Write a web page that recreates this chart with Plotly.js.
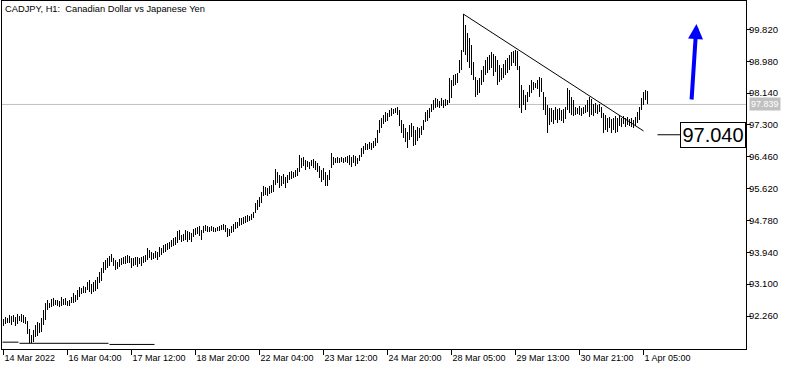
<!DOCTYPE html>
<html><head><meta charset="utf-8">
<script src="https://cdn.plot.ly/plotly-3.0.1.min.js"></script>
<style>html,body{margin:0;padding:0;background:#fff;}#chart{width:794px;height:370px;}</style>
</head><body><div id="chart"></div>
<script>
const barHigh = [
92.18,92.23,92.21,92.29,92.26,92.29,92.23,92.31,92.26,92.31,
92.29,92.23,92.13,91.92,91.76,91.89,92.02,92.10,92.08,92.21,
92.42,92.60,92.68,92.60,92.71,92.73,92.68,92.68,92.66,92.76,
92.71,92.73,92.66,92.68,92.76,92.87,92.81,92.95,93.03,93.00,
93.05,93.03,93.16,93.21,93.10,93.16,93.21,93.29,93.42,93.53,
93.68,93.74,93.79,93.84,93.90,93.79,93.74,93.68,93.76,93.79,
93.82,93.84,93.87,93.84,93.79,93.79,93.82,93.82,93.79,93.82,
93.84,93.87,94.05,94.00,93.95,93.92,93.97,93.95,94.08,94.05,
94.13,94.16,94.19,94.21,94.26,94.32,94.34,94.50,94.53,94.40,
94.42,94.53,94.50,94.48,94.45,94.55,94.58,94.61,94.63,94.53,
94.63,94.66,94.63,94.61,94.63,94.61,94.58,94.61,94.63,94.66,
94.69,94.66,94.58,94.55,94.63,94.69,94.74,94.74,94.84,94.84,
94.87,94.90,94.92,94.90,94.95,95.00,95.24,95.32,95.40,95.53,
95.69,95.66,95.64,95.69,95.71,95.85,96.14,96.06,95.98,95.95,
96.00,95.93,95.98,96.06,96.08,96.06,96.11,96.16,96.51,96.43,
96.45,96.37,96.35,96.32,96.37,96.40,96.35,96.29,96.22,96.11,
96.16,96.06,95.98,96.11,96.56,96.45,96.43,96.45,96.43,96.45,
96.43,96.45,96.48,96.51,96.45,96.51,96.48,96.43,96.51,96.69,
96.74,96.82,96.80,96.85,96.82,96.88,96.95,97.17,97.43,97.48,
97.56,97.64,97.61,97.69,97.75,97.72,97.75,97.77,97.69,97.43,
97.32,97.22,97.11,97.30,97.35,97.27,97.17,97.24,97.22,97.27,
97.43,97.64,97.69,97.75,97.85,97.96,98.01,97.98,97.93,98.01,
97.96,97.98,97.96,98.54,98.48,98.62,98.64,98.67,99.01,99.27,
100.22,99.93,99.72,99.59,99.41,98.96,98.56,98.48,98.54,98.75,
98.85,99.01,99.09,99.14,99.22,99.17,99.12,99.01,98.88,98.80,
98.91,99.01,99.06,99.14,99.22,99.25,99.27,99.25,98.85,98.35,
98.22,98.09,98.17,98.35,98.48,98.43,98.40,98.48,98.56,98.54,
98.17,98.04,97.82,97.75,97.75,97.69,97.77,97.72,97.75,97.69,
97.72,97.77,98.27,98.22,98.04,97.96,97.77,97.75,97.80,97.75,
97.77,97.82,97.96,98.04,97.98,97.85,97.88,97.82,97.85,97.77,
97.61,97.56,97.48,97.51,97.46,97.48,97.53,97.48,97.56,97.48,
97.53,97.48,97.51,97.46,97.48,97.43,97.51,97.64,97.77,98.01,
98.17,98.22,98.19
];
const barLow = [
92.00,92.05,92.08,92.08,92.02,92.10,92.00,92.05,92.13,92.10,
92.08,92.05,91.79,91.55,91.55,91.57,91.71,91.73,91.81,91.84,
92.02,92.15,92.42,92.47,92.50,92.52,92.55,92.52,92.50,92.52,
92.55,92.55,92.52,92.52,92.60,92.60,92.63,92.68,92.76,92.84,
92.87,92.87,92.95,92.89,92.84,92.89,92.92,92.97,93.13,93.18,
93.39,93.47,93.53,93.58,93.68,93.58,93.47,93.50,93.55,93.61,
93.63,93.63,93.66,93.66,93.53,93.58,93.61,93.55,93.63,93.58,
93.66,93.68,93.74,93.79,93.74,93.76,93.79,93.74,93.82,93.87,
93.92,93.95,94.00,94.03,94.08,94.11,94.13,94.19,94.26,94.21,
94.24,94.26,94.21,94.26,94.21,94.34,94.40,94.42,94.37,94.26,
94.45,94.50,94.48,94.48,94.50,94.48,94.48,94.50,94.50,94.53,
94.53,94.48,94.34,94.37,94.45,94.48,94.55,94.58,94.63,94.66,
94.69,94.71,94.74,94.77,94.79,94.84,94.98,95.06,95.13,95.24,
95.42,95.45,95.42,95.48,95.50,95.53,95.71,95.77,95.64,95.69,
95.74,95.64,95.77,95.85,95.87,95.90,95.93,95.95,96.06,96.16,
96.22,96.11,96.19,96.14,96.22,96.16,96.11,96.06,95.90,95.79,
95.85,95.69,95.69,95.85,96.16,96.24,96.29,96.29,96.29,96.32,
96.29,96.32,96.29,96.24,96.19,96.29,96.22,96.27,96.35,96.45,
96.53,96.64,96.64,96.66,96.64,96.69,96.74,96.82,97.09,97.22,
97.32,97.38,97.40,97.51,97.53,97.59,97.61,97.56,97.27,97.09,
96.95,96.85,96.69,96.90,96.98,96.74,96.77,96.88,96.95,97.03,
97.17,97.38,97.40,97.48,97.64,97.69,97.75,97.77,97.75,97.80,
97.75,97.80,97.82,97.88,98.01,98.33,98.35,98.40,98.67,98.75,
99.22,99.14,98.96,98.80,98.62,98.48,98.04,98.09,98.14,98.35,
98.43,98.62,98.67,98.75,98.80,98.59,98.69,98.35,98.43,98.48,
98.54,98.62,98.67,98.75,98.85,98.93,98.85,98.75,97.75,97.61,
97.82,97.69,97.90,98.04,98.14,98.22,98.27,98.25,98.04,98.17,
97.69,97.56,97.09,97.30,97.38,97.32,97.43,97.35,97.43,97.40,
97.35,97.46,97.69,97.61,97.56,97.53,97.56,97.59,97.56,97.53,
97.59,97.61,97.64,97.51,97.56,97.53,97.61,97.59,97.64,97.48,
97.09,97.17,97.11,97.22,97.09,97.17,97.09,97.11,97.27,97.24,
97.32,97.24,97.30,97.27,97.24,97.22,97.27,97.35,97.43,97.69,
97.82,97.96,97.85
];
const timeTickIndex = [0,32,64,96,128,160,192,224,256,288,320];
const timeTickLabels = ['14 Mar 2022','16 Mar 04:00','17 Mar 12:00','18 Mar 20:00','22 Mar 04:00','23 Mar 12:00','24 Mar 20:00','28 Mar 05:00','29 Mar 13:00','30 Mar 21:00','1 Apr 05:00'];
const priceTicks = [92.26,93.10,93.94,94.78,95.62,96.46,97.30,98.14,98.98,99.82];
const lastPrice = 97.839;
const targetLevel = 97.040;
const trendIndex = [230,320];
const trendPrice = [100.22,97.14];
const targetLineIndex = [327,338.5];
const arrowIndex = [344,346.5];
const arrowPrice = [97.93,99.96];
const levelStartIndex = [-0.5,8,53];
const levelEndIndex = [7.5,52.5,75.5];
const levelPrice = [91.57,91.54,91.51];

const idx = barHigh.map((_, i) => i);
const FONT = 'Liberation Sans, Arial, sans-serif';

const trace = {
  type: 'bar',
  x: idx,
  base: barLow,
  y: barHigh.map((h, i) => h - barLow[i]),
  width: 0.5,
  marker: {color: '#000000', line: {width: 0}},
  hoverinfo: 'skip'
};

const shapes = [
  {type:'line', xref:'paper', x0:0, x1:1, yref:'y', y0:lastPrice, y1:lastPrice,
   line:{color:'#c0c0c0', width:1}, layer:'below'},
  {type:'line', xref:'x', yref:'y', x0:trendIndex[0], x1:trendIndex[1], y0:trendPrice[0], y1:trendPrice[1],
   line:{color:'#000000', width:1}},
  {type:'line', xref:'x', yref:'y', x0:targetLineIndex[0], x1:targetLineIndex[1], y0:targetLevel, y1:targetLevel,
   line:{color:'#000000', width:1}}
];
levelPrice.forEach((p, k) => shapes.push({type:'line', xref:'x', yref:'y',
  x0:levelStartIndex[k], x1:levelEndIndex[k], y0:p, y1:p, line:{color:'#000000', width:1}}));

const annotations = [
  {xref:'paper', x:1, xanchor:'right', yref:'y', y:targetLevel, yanchor:'middle',
   text:targetLevel.toFixed(3), showarrow:false, font:{family:FONT, size:20, color:'#000'},
   bgcolor:'#ffffff', bordercolor:'#000000', borderwidth:1, borderpad:1, width:62},
  {xref:'paper', x:1, xanchor:'left', xshift:3, yref:'y', y:lastPrice, yanchor:'middle',
   text:lastPrice.toFixed(3), showarrow:false, font:{family:FONT, size:9, color:'#ffffff'},
   bgcolor:'#c0c0c0', borderpad:1},
  {xref:'x', yref:'y', x:arrowIndex[1], y:arrowPrice[1], axref:'x', ayref:'y', ax:arrowIndex[0], ay:arrowPrice[0],
   text:'', showarrow:true, arrowhead:2, arrowsize:0.75, arrowwidth:4, arrowcolor:'#0000ff', standoff:0}
];

const layout = {
  width: 794, height: 370,
  margin: {l:2, r:48, t:1, b:21, pad:0},
  paper_bgcolor:'#ffffff', plot_bgcolor:'#ffffff',
  showlegend:false,
  title: {text:'CADJPY, H1: \u00a0Canadian Dollar vs Japanese Yen', font:{family:FONT, size:9.3, color:'#000'},
          xref:'paper', x:0, xanchor:'left', yref:'paper', y:1, yanchor:'top', pad:{l:3, t:4}},
  xaxis: {range:[-0.75, 371.25], tickmode:'array', tickvals:timeTickIndex, ticktext:timeTickLabels,
          ticks:'outside', ticklen:5, tickwidth:1, tickcolor:'#000', showline:true, linecolor:'#000', linewidth:1,
          mirror:true, showgrid:false, zeroline:false, ticklabelposition:'outside right',
          tickfont:{family:FONT, size:9, color:'#000'}, fixedrange:true},
  yaxis: {side:'right', range:[91.390, 100.567], tickmode:'array', tickvals:priceTicks, tickformat:'.3f',
          ticks:'outside', ticklen:4, tickwidth:1, tickcolor:'#000', showline:true, linecolor:'#000', linewidth:1,
          mirror:true, showgrid:false, zeroline:false, ticklabelstandoff:-4,
          tickfont:{family:FONT, size:9.5, color:'#000'}, fixedrange:true},
  bargap:0,
  shapes: shapes,
  annotations: annotations
};

Plotly.newPlot('chart', [trace], layout, {staticPlot:true, displayModeBar:false});
</script>
</body></html>
